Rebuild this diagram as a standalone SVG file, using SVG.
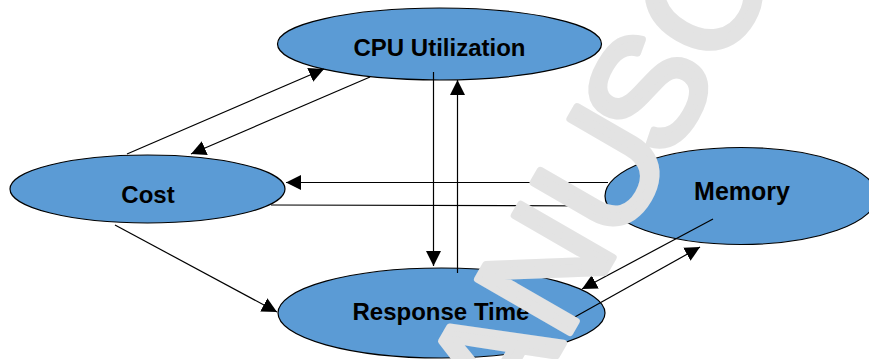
<svg xmlns="http://www.w3.org/2000/svg" width="869" height="359" viewBox="0 0 869 359">
  <style>
    .node ellipse { fill: #5b9bd5; stroke: #000; stroke-width: 1.2; }
    .node text { font-family: "Liberation Sans", Arial, sans-serif; font-weight: bold; font-size: 24px; fill: #000; text-anchor: middle; }
    .edges line { stroke: #000; stroke-width: 1.2; fill: none; marker-end: url(#arrow); }
    .mark { font-family: "Liberation Sans", Arial, sans-serif; font-size: 155px; fill: #e3e3e3; stroke: #e3e3e3; stroke-width: 7; stroke-linejoin: round; }
  </style>
  <defs>
    <marker id="arrow" markerUnits="userSpaceOnUse" markerWidth="16" markerHeight="16" refX="15" refY="8" orient="auto">
      <path d="M0,0.5 L15,8 L0,15.5 z" fill="#000"/>
    </marker>
  </defs>
  <rect width="869" height="359" fill="#fff"/>

  <g id="cpu" class="node">
    <ellipse cx="439.5" cy="44" rx="162" ry="36"/>
    <text x="439.5" y="56">CPU Utilization</text>
  </g>
  <g id="cost" class="node">
    <ellipse cx="147.5" cy="189" rx="137.5" ry="34"/>
    <text x="148" y="203">Cost</text>
  </g>
  <g id="memory" class="node">
    <ellipse cx="741" cy="196" rx="136" ry="48.5"/>
    <text x="742" y="200" style="font-size:25px">Memory</text>
  </g>
  <g id="response" class="node">
    <ellipse cx="441.5" cy="313" rx="163.5" ry="45"/>
    <text x="441" y="320">Response Time</text>
  </g>

  <g class="edges">
    <line x1="127" y1="154" x2="324" y2="69"/>
    <line x1="370" y1="77" x2="191" y2="154"/>
    <line x1="433.5" y1="72" x2="433.5" y2="266"/>
    <line x1="457.5" y1="273" x2="457.5" y2="80"/>
    <line x1="608" y1="182.5" x2="286" y2="182.5"/>
    <line x1="271" y1="205" x2="606" y2="206"/>
    <line x1="713" y1="219" x2="582" y2="289"/>
    <line x1="573" y1="318" x2="700" y2="247"/>
    <line x1="115" y1="225" x2="277" y2="312"/>
  </g>

  <!-- diagonal light-grey lettering laid over the whole drawing -->
  <text class="mark" transform="translate(512,432.6) rotate(-60)" x="0 103 215 312 417">ANUSC</text>
</svg>
